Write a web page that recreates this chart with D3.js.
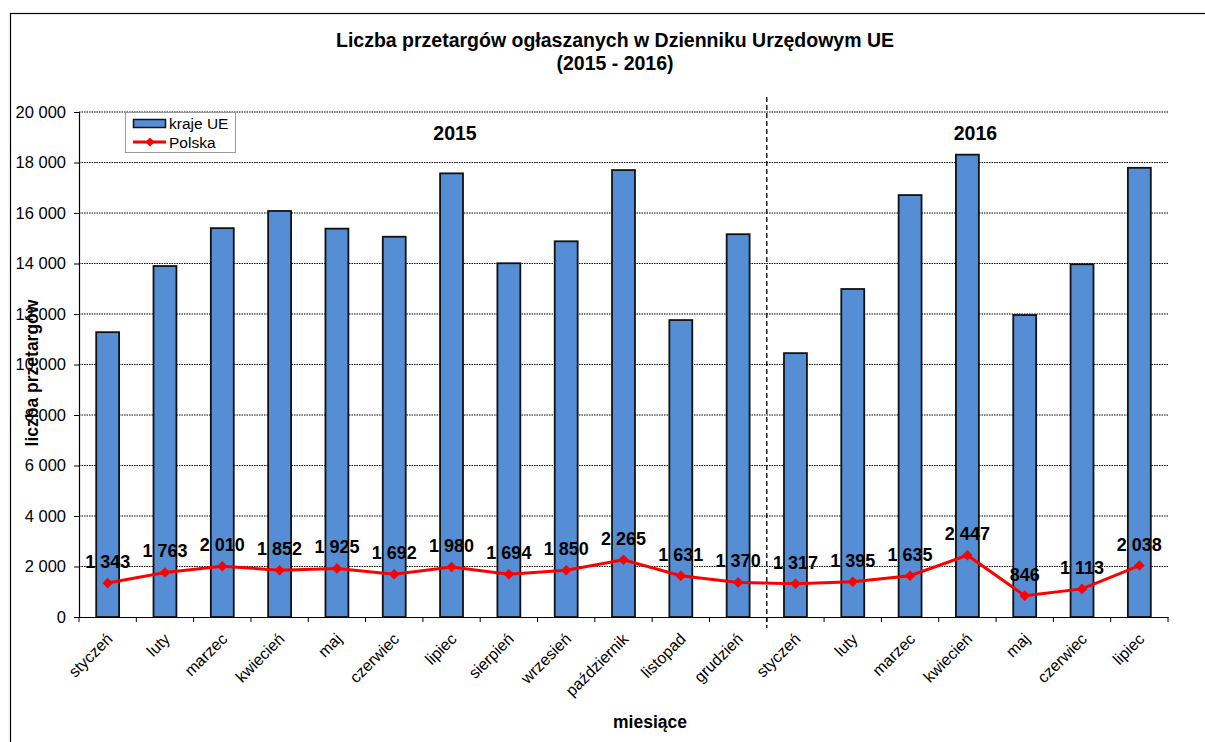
<!DOCTYPE html>
<html>
<head>
<meta charset="utf-8">
<script src="https://cdn.jsdelivr.net/npm/d3@7"></script>
<style>
  html, body { margin: 0; padding: 0; background: #fff; }
  svg { display: block; font-family: "Liberation Sans", Arial, sans-serif; }
</style>
</head>
<body>
<svg id="chart" width="1205" height="742"></svg>
<script>
// ---- data ----
const months = ["styczeń","luty","marzec","kwiecień","maj","czerwiec","lipiec","sierpień","wrzesień","październik","listopad","grudzień",
                "styczeń","luty","marzec","kwiecień","maj","czerwiec","lipiec"];
const krajeUE = [11280,13900,15400,16080,15380,15060,17570,14010,14880,17700,11760,15160,
                 10450,12990,16710,18310,11960,13970,17790];
const polska = [1343,1763,2010,1852,1925,1692,1980,1694,1850,2265,1631,1370,
                1317,1395,1635,2447,846,1113,2038];
const yTicks = [0,2000,4000,6000,8000,10000,12000,14000,16000,18000,20000];
const years = [{label:"2015", from:0, to:11},{label:"2016", from:12, to:18}];
const title1 = "Liczba przetargów ogłaszanych w Dzienniku Urzędowym UE";
const title2 = "(2015 - 2016)";
const yTitle = "liczba przetargów";
const xTitle = "miesiące";
const seriesNames = ["kraje UE","Polska"];

// ---- layout ----
const svg = d3.select("#chart");
const L = 79, R = 1168, T = 112, B = 617;
const barColor = "#558ED5", lineColor = "#FF0000";
const FONT = "Liberation Sans, Arial, sans-serif";

const idx = d3.range(months.length);
const x = d3.scaleBand().domain(idx).range([L, R]).paddingInner(0.6).paddingOuter(0.3);
const y = d3.scaleLinear().domain([0, 20000]).range([B, T]);
const fmt = v => d3.format(",")(v).replace(/,/g, " ");
const cx = i => x(i) + x.bandwidth() / 2;

// outer frame
svg.append("rect").attr("x", 10.5).attr("y", 13.5).attr("width", 1400).attr("height", 900)
  .attr("fill", "none").attr("stroke", "#000").attr("stroke-width", 1.2);

// gridlines
svg.append("g").selectAll("line").data(yTicks.filter(d => d > 0)).join("line")
  .attr("x1", L).attr("x2", R).attr("y1", d => y(d)).attr("y2", d => y(d))
  .attr("stroke", "#000").attr("stroke-width", 1).attr("stroke-dasharray", "1.5,1");

// y axis
const yAxis = svg.append("g").attr("transform", `translate(${L},0)`)
  .call(d3.axisLeft(y).tickValues(yTicks).tickFormat(fmt).tickSize(5).tickPadding(8));
yAxis.select(".domain").attr("stroke", "#000").attr("stroke-width", 1.2);
yAxis.selectAll(".tick line").attr("stroke", "#000");
yAxis.selectAll("text").attr("font-size", 16.5).attr("fill", "#000").attr("font-family", FONT);

// bars
svg.append("g").selectAll("rect").data(krajeUE).join("rect")
  .attr("x", (d, i) => x(i)).attr("width", x.bandwidth())
  .attr("y", d => y(d)).attr("height", d => B - y(d))
  .attr("fill", barColor).attr("stroke", "#111").attr("stroke-width", 1.8);

// x axis
const xAxis = svg.append("g").attr("transform", `translate(0,${B})`)
  .call(d3.axisBottom(x).tickFormat(i => months[i]).tickSize(0).tickPadding(0));
xAxis.select(".domain").attr("stroke", "#000").attr("stroke-width", 1.2);
xAxis.selectAll("text")
  .attr("font-size", 16).attr("fill", "#000").attr("font-family", FONT)
  .attr("text-anchor", "end").attr("dy", 0).attr("y", 0).attr("x", 0)
  .attr("transform", "translate(6,23) rotate(-45)");
// boundary ticks
const bounds = idx.map(i => x(i) - (x.step() - x.bandwidth()) / 2).concat([R]);
svg.append("g").selectAll("line").data(bounds).join("line")
  .attr("x1", d => d).attr("x2", d => d).attr("y1", B).attr("y2", B + 5)
  .attr("stroke", "#000").attr("stroke-width", 1);

// year separator
const sepX = x(years[1].from) - (x.step() - x.bandwidth()) / 2;
svg.append("line").attr("x1", sepX).attr("x2", sepX).attr("y1", 97).attr("y2", 628)
  .attr("stroke", "#000").attr("stroke-width", 1.3).attr("stroke-dasharray", "5,3");

// year labels
svg.append("g").selectAll("text").data(years).join("text")
  .attr("x", d => (d.label === "2015" ? 455 : (cx(d.from) + cx(d.to)) / 2 + 8))
  .attr("y", 140).attr("text-anchor", "middle")
  .attr("font-size", 19.5).attr("font-weight", "bold").text(d => d.label);

// Polska line
const line = d3.line().x((d, i) => cx(i)).y(d => y(d));
svg.append("path").datum(polska).attr("d", line)
  .attr("fill", "none").attr("stroke", lineColor).attr("stroke-width", 3);
const marker = d3.symbol().type(d3.symbolSquare).size(42);
svg.append("g").selectAll("path").data(polska).join("path")
  .attr("transform", (d, i) => `translate(${cx(i)},${y(d)}) rotate(45)`)
  .attr("d", marker).attr("fill", lineColor).attr("stroke", lineColor);
svg.append("g").selectAll("text").data(polska).join("text")
  .attr("x", (d, i) => cx(i)).attr("y", d => y(d) - 15)
  .attr("text-anchor", "middle").attr("font-size", 18).attr("font-weight", "bold")
  .attr("fill", "#000").text(d => fmt(d));

// titles
svg.append("text").attr("x", 615).attr("y", 47).attr("text-anchor", "middle")
  .attr("font-size", 19.5).attr("font-weight", "bold").text(title1);
svg.append("text").attr("x", 615).attr("y", 70).attr("text-anchor", "middle")
  .attr("font-size", 19.5).attr("font-weight", "bold").text(title2);
svg.append("text").attr("transform", "translate(38,373) rotate(-90)").attr("text-anchor", "middle")
  .attr("font-size", 17.5).attr("font-weight", "bold").text(yTitle);
svg.append("text").attr("x", 650).attr("y", 728).attr("text-anchor", "middle")
  .attr("font-size", 17.5).attr("font-weight", "bold").text(xTitle);

// legend
const lg = svg.append("g");
lg.append("rect").attr("x", 125.5).attr("y", 112.5).attr("width", 110).attr("height", 40)
  .attr("fill", "#fff").attr("stroke", "#999").attr("stroke-width", 1);
lg.append("rect").attr("x", 133.5).attr("y", 119.5).attr("width", 32).attr("height", 8)
  .attr("fill", barColor).attr("stroke", "#111").attr("stroke-width", 1.5);
lg.append("text").attr("x", 169).attr("y", 129).attr("font-size", 15.5).text(seriesNames[0]);
lg.append("line").attr("x1", 133).attr("x2", 166).attr("y1", 142).attr("y2", 142)
  .attr("stroke", lineColor).attr("stroke-width", 3);
lg.append("path").attr("transform", "translate(150,142) rotate(45)").attr("d", marker).attr("fill", lineColor);
lg.append("text").attr("x", 169).attr("y", 148).attr("font-size", 15.5).text(seriesNames[1]);
</script>
</body>
</html>
